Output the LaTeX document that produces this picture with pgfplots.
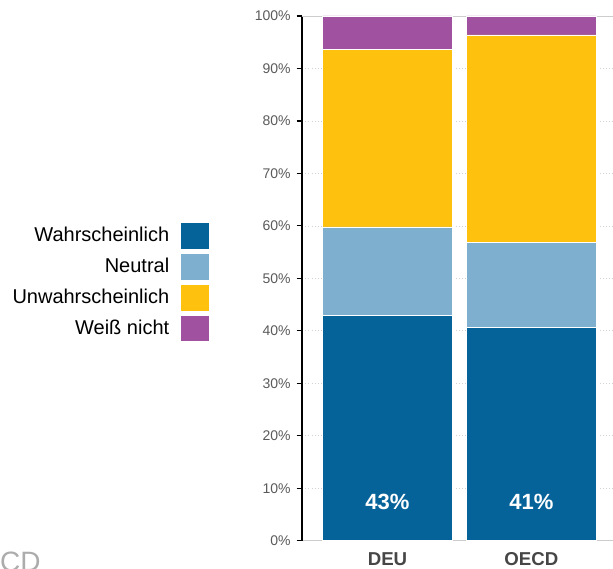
\documentclass[border=0pt]{standalone}
\usepackage{fontspec}
\setmainfont{Liberation Sans}
\usepackage{pgfplots}
\pgfplotsset{compat=1.18}
\definecolor{cWahr}{RGB}{6,99,154}
\definecolor{cNeut}{RGB}{127,175,206}
\definecolor{cUnw}{RGB}{254,194,14}
\definecolor{cWeiss}{RGB}{160,82,160}
\definecolor{tickgray}{RGB}{90,90,90}
\definecolor{labgray}{RGB}{70,70,70}

\pgfplotsset{
  boxleg/.style={legend image code/.code={
      \draw[##1, draw=white, line width=0.6pt] (0pt,-10.1pt) rectangle (21.75pt,10.1pt);}},
  samebox/.style={
    at={(0pt,0pt)}, anchor=south west,
    scale only axis,
    width=233.25pt, height=393.5pt,
    xmin=-0.594, xmax=1.567,
    ymin=0, ymax=100},
}

\begin{document}
\begin{tikzpicture}
\begin{axis}[
  samebox,
  ybar stacked,
  bar width=97.1pt,
  xtick={0,1}, xticklabels={DEU,OECD},
  ytick={0,10,...,100},
  yticklabel={\pgfmathprintnumber{\tick}\%},
  /pgf/number format/assume math mode=true,
  axis x line*=bottom, axis y line*=left,
  x axis line style={draw=gray!40, line width=0.8pt, -},
  y axis line style={draw=black, line width=0.9pt, -},
  tick align=outside,
  major tick length=4pt,
  ytick style={draw=black, line width=0.9pt},
  xtick style={draw=none},
  ymajorgrids=true,
  grid style={dotted, gray!35, line width=0.5pt},
  yticklabel style={font=\fontsize{10.5}{12}\selectfont, text=tickgray, xshift=-1pt},
  xticklabel style={font=\bfseries\fontsize{14}{16}\selectfont, text=labgray, yshift=-1.5pt},
  legend style={at={(rel axis cs:-0.283,0.493)}, anchor=east,
    draw=none, fill=none,
    font=\fontsize{15}{18}\selectfont,
    row sep=2.4pt,
    nodes={inner sep=0pt},
    /tikz/every odd column/.append style={column sep=8pt}},
  legend cell align=right,
  legend plot pos=right,
]
\addplot[fill=cWahr, draw=white, line width=0.4pt, boxleg]
  coordinates {(0,42.9) (1,40.6)};
\addplot[fill=cNeut, draw=white, line width=0.4pt, boxleg]
  coordinates {(0,16.9) (1,16.2)};
\addplot[fill=cUnw, draw=white, line width=0.4pt, boxleg]
  coordinates {(0,33.85) (1,39.6)};
\addplot[fill=cWeiss, draw=white, line width=0.4pt, boxleg]
  coordinates {(0,6.35) (1,3.6)};
\legend{Wahrscheinlich, Neutral, Unwahrscheinlich, Weiß nicht}
\draw[gray!40, line width=0.6pt] (rel axis cs:0,1) -- (rel axis cs:1,1);
\end{axis}
% value labels on the blue segments
\begin{axis}[samebox, hide axis]
\addplot[draw=none, mark=none, point meta=explicit symbolic,
  nodes near coords,
  every node near coord/.style={anchor=center, text=white,
    font=\bfseries\fontsize{16.5}{18}\selectfont}]
  coordinates {(0,7.4)[43\%] (1,7.4)[41\%]};
\end{axis}
\node[anchor=north west, inner sep=0pt, text=gray!65, font=\fontsize{21}{24}\selectfont]
  at (-257pt,-8.5pt) {OECD};
\pgfresetboundingbox
\path[use as bounding box] (-226.5pt,-20.5pt) rectangle (233.25pt,405.5pt);
\end{tikzpicture}
\end{document}
